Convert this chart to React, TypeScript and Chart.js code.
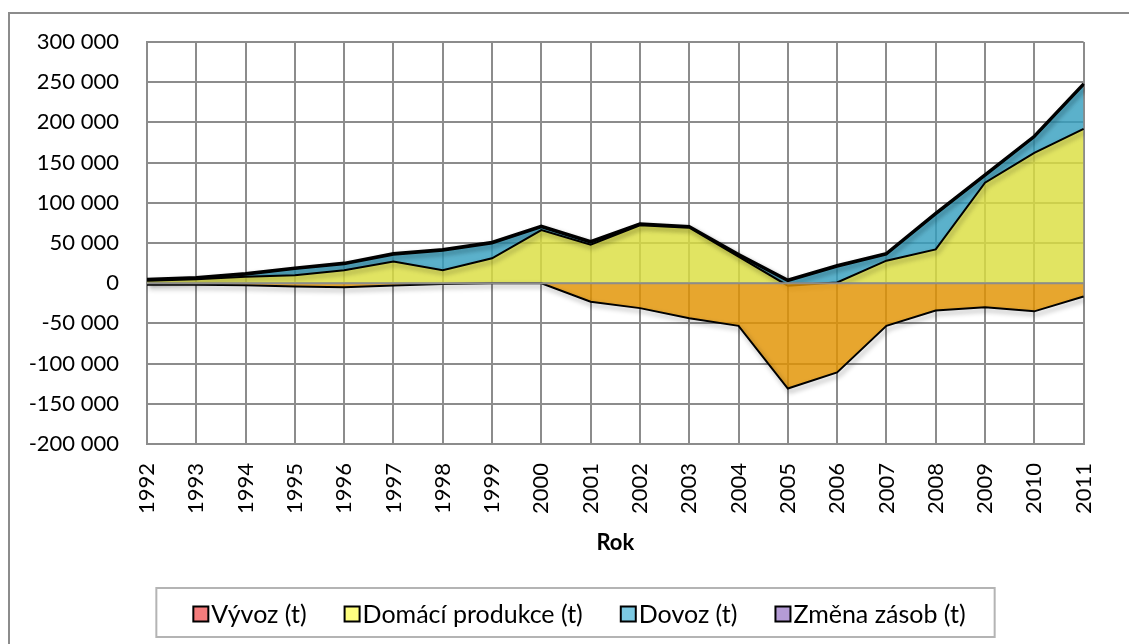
import { useEffect, useRef } from "react";
import { Chart, registerables } from "chart.js";

Chart.register(...registerables);

const years = ["1992", "1993", "1994", "1995", "1996", "1997", "1998", "1999", "2000", "2001", "2002", "2003", "2004", "2005", "2006", "2007", "2008", "2009", "2010", "2011"];

const seriesLabels = ["Vývoz (t)", "Domácí produkce (t)", "Dovoz (t)", "Změna zásob (t)"];

const vyvoz = [-2000, -2000, -2500, -4000, -5000, -3000, -1000, 0, 0, -23000, -31000, -43500, -53000, -131000, -111000, -53000, -34000, -30000, -35000, -16500];
const domaciProdukce = [3000, 5000, 8000, 10000, 16000, 27000, 16000, 31000, 66000, 48000, 72000, 69000, 33000, -3000, 1000, 28000, 42000, 125000, 162000, 192000];
const dovoz = [500, 500, 2500, 7500, 7500, 8500, 24500, 18500, 3500, 2500, 500, 0, 1500, 5500, 19500, 7500, 43500, 8500, 19500, 54500];
const zmenaZasob = [1500, 1500, 1500, 1500, 1500, 1500, 1500, 1500, 1500, 1500, 1500, 1500, 1500, 1500, 1500, 1500, 1500, 1500, 1500, 1500];

const yMin = -200000;
const yMax = 300000;
const yStep = 50000;

const areaColors = ["rgba(226,146,0,0.82)", "rgba(219,222,64,0.82)", "rgba(50,158,190,0.8)", "rgba(140,100,190,0.8)"];
const legendSwatches = ["#F47C7C", "#FFFF80", "#7CC9E2", "#B59CD6"];

function fmt(v: number) {
  const s = Math.abs(v).toString().replace(/\B(?=(\d{3})+(?!\d))/g, " ");
  return (v < 0 ? "-" : "") + s;
}

const framePlugin = {
  id: "frame",
  beforeDraw(chart: any) {
    const c = chart.ctx;
    c.save();
    c.strokeStyle = "#8c8c8c";
    c.lineWidth = 2;
    c.beginPath();
    c.moveTo(9, 700);
    c.lineTo(9, 13);
    c.lineTo(1140, 13);
    c.stroke();
    c.restore();
  },
};

const lineShadowPlugin = {
  id: "lineShadow",
  beforeDatasetDraw(chart: any) {
    const c = chart.ctx;
    c.save();
    c.shadowColor = "rgba(0,0,0,0.4)";
    c.shadowBlur = 5;
    c.shadowOffsetX = 2;
    c.shadowOffsetY = 3;
  },
  afterDatasetDraw(chart: any) {
    chart.ctx.restore();
  },
};

const zeroLinePlugin = {
  id: "zeroLine",
  afterDatasetsDraw(chart: any) {
    const c = chart.ctx;
    const y = chart.scales.y.getPixelForValue(0);
    const a = chart.chartArea;
    c.save();
    c.strokeStyle = "#8c8c8c";
    c.lineWidth = 2;
    c.beginPath();
    c.moveTo(a.left, y);
    c.lineTo(a.right, y);
    c.stroke();
    c.restore();
  },
};

const boxLegendPlugin = {
  id: "boxLegend",
  afterDraw(chart: any) {
    const c = chart.ctx;
    c.save();
    c.font = "25px Lato";
    c.textBaseline = "middle";
    c.textAlign = "left";
    const items = chart.data.datasets.map((d: any, i: number) => ({ text: d.label, color: legendSwatches[i] }));
    const sw = 15;
    const gapT = 3;
    const gapI = 38;
    const widths = items.map((it: any) => c.measureText(it.text).width);
    const total = widths.reduce((a: number, w: number) => a + sw + gapT + w, 0) + gapI * (items.length - 1);
    let x = 579.5 - total / 2;
    const left = x - 37;
    const right = x + total + 29;
    const top = 588;
    const bottom = 637;
    c.strokeStyle = "#b4b4b4";
    c.lineWidth = 2;
    c.strokeRect(left, top, right - left, bottom - top);
    const cy = 614;
    items.forEach((it: any, i: number) => {
      c.fillStyle = it.color;
      c.fillRect(x, cy - 7.5, sw, sw);
      c.strokeStyle = "#000";
      c.lineWidth = 2;
      c.strokeRect(x, cy - 7.5, sw, sw);
      c.fillStyle = "#000";
      c.fillText(it.text, x + sw + gapT, cy + 1);
      x += sw + gapT + widths[i] + gapI;
    });
    c.restore();
  },
};

export default function App() {
  const ref = useRef<HTMLCanvasElement>(null);
  useEffect(() => {
    const dovozTop = domaciProdukce.map((v, i) => v + dovoz[i]);
    const zasobTop = dovozTop.map((v, i) => v + zmenaZasob[i]);
    Chart.defaults.font.family = "Lato";
    const chart = new Chart(ref.current as HTMLCanvasElement, {
      type: "line",
      data: {
        labels: years,
        datasets: [
          { label: seriesLabels[0], data: vyvoz, fill: "origin", backgroundColor: areaColors[0], borderColor: "#000", borderWidth: 2, pointRadius: 0, tension: 0 },
          { label: seriesLabels[1], data: domaciProdukce, fill: "origin", backgroundColor: areaColors[1], borderColor: "#000", borderWidth: 2, pointRadius: 0, tension: 0 },
          { label: seriesLabels[2], data: dovozTop, fill: 1, backgroundColor: areaColors[2], borderColor: "#000", borderWidth: 2, pointRadius: 0, tension: 0 },
          { label: seriesLabels[3], data: zasobTop, fill: 2, backgroundColor: areaColors[3], borderColor: "#000", borderWidth: 3, pointRadius: 0, tension: 0 },
        ],
      },
      options: {
        responsive: false,
        animation: false,
        layout: { padding: { left: 0, top: 42, right: 15, bottom: 88 } },
        plugins: { legend: { display: false }, tooltip: { enabled: false } },
        scales: {
          x: {
            type: "category",
            offset: false,
            grid: { color: "#8c8c8c", lineWidth: 2, offset: false, drawTicks: false },
            border: { color: "#8c8c8c", width: 2 },
            ticks: { color: "#000", font: { size: 22 }, minRotation: 90, maxRotation: 90, autoSkip: false, padding: 19 },
            title: { display: true, text: "Rok", color: "#000", font: { size: 22, weight: "bold" }, padding: 0 },
            afterFit: (s: any) => { s.height = 112; },
          },
          y: {
            min: yMin,
            max: yMax,
            grid: { color: "#8c8c8c", lineWidth: 2, drawTicks: false },
            border: { color: "#8c8c8c", width: 2 },
            ticks: { stepSize: yStep, color: "#000", font: { size: 22 }, padding: 28, callback: (v: any) => fmt(Number(v)) },
            afterFit: (s: any) => { s.width = 147; },
          },
        },
      },
      plugins: [framePlugin, lineShadowPlugin, zeroLinePlugin, boxLegendPlugin],
    } as any);
    return () => chart.destroy();
  }, []);
  return (
    <canvas
      ref={ref}
      width={1129}
      height={644}
      style={{ position: "fixed", left: 0, top: 0, width: 1129, height: 644, background: "#fff" }}
    />
  );
}
